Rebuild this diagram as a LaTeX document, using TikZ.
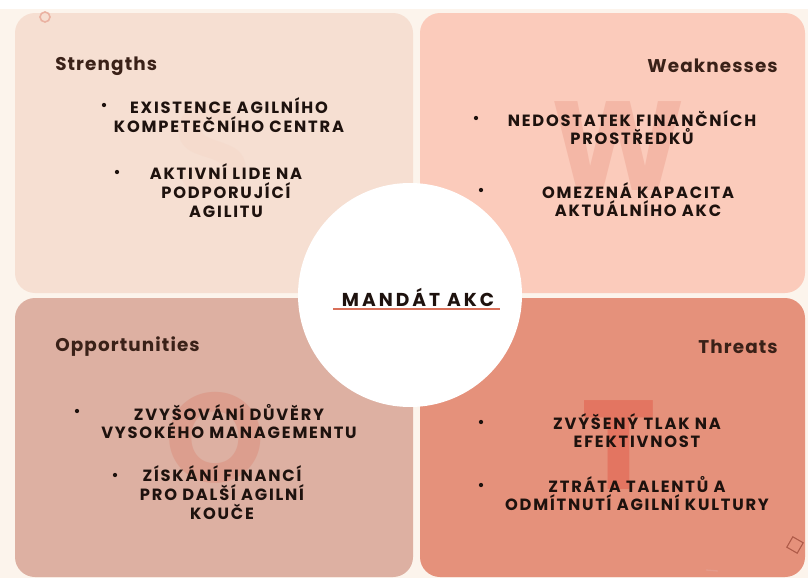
\documentclass[tikz,border=0pt]{standalone}
\usepackage{fontspec}
\setmainfont{Poppins}
\newfontfamily\itemfont{Poppins}[LetterSpace=11]
\newfontfamily\headfont{Poppins}[LetterSpace=6]
\newfontfamily\titlefont{Poppins}[LetterSpace=16]
\usetikzlibrary{positioning}

\definecolor{cream}{HTML}{FCF4EC}
\definecolor{tlfill}{HTML}{F6DFD2}
\definecolor{trfill}{HTML}{FBCBBB}
\definecolor{blfill}{HTML}{DDB0A2}
\definecolor{brfill}{HTML}{E5917B}
\definecolor{inkdark}{HTML}{1E120E}
\definecolor{headbrown}{HTML}{3A2118}
\definecolor{accent}{HTML}{D9705A}

\begin{document}
\begin{tikzpicture}[x=0.75pt, y=-0.75pt,
        quad/.style={rounded corners=15},
        head/.style={font=\headfont\bfseries\fontsize{13.8}{15}\selectfont, text=headbrown, inner sep=0},
        item/.style={align=center, font=\itemfont\bfseries\fontsize{12.2}{14}\selectfont, text=inkdark, inner sep=0},
        bul/.style={circle, fill=inkdark, inner sep=0, minimum size=3.2pt},
        wmark/.style={font=\headfont\bfseries\fontsize{95}{95}\selectfont, inner sep=0},
        hub/.style={circle, fill=white, minimum size=168pt, inner sep=0}
    ]
        \useasboundingbox (0,0) rectangle (808,578);
        \fill[cream] (0,0) rectangle (808,578);
        \fill[white] (0,0) rectangle (808,9);

        % Quadrants
        \fill[tlfill, quad] (15,13) rectangle (413,293);
        \fill[trfill, quad] (420,13) rectangle (805,293);
        \fill[blfill, quad] (15,298) rectangle (413,577);
        \fill[brfill, quad] (420,298) rectangle (805,577);

        % Big letters behind the text
        \node[wmark, text=tlfill!96!accent] (sl) at (212,150) {S};
        \node[wmark, text=trfill!78!accent] (wl) at (618,146) {W};
        \node[wmark, text=blfill!72!accent] (ol) at (215,438) {O};
        \node[wmark, text=brfill!55!accent!90!red] (tl) at (619,445) {T};

        % Small decorations
        \draw[tlfill!60!accent, line width=1.2pt] (45,17) circle (5);
        \draw[accent!80!black, line width=0.8pt, rotate around={-30:(795,545)}] (789,539) rectangle (801,551);
        \draw[accent!70!white, line width=1pt] (706,570) -- (718,571);

        % Headings
        \node[head, anchor=west] (sh) at (55,66) {Strengths};
        \node[head, anchor=east] (wh) at (778,66) {Weaknesses};
        \node[head, anchor=west] (oh) at (55,347) {Opportunities};
        \node[head, anchor=east] (th) at (778,347) {Threats};

        % Strengths
        \node[bul] (b1) at (104,105) {};
        \node[item] (s1) at (229,115) {EXISTENCE AGILNÍHO\\KOMPETEČNÍHO CENTRA};
        \node[bul] (b2) at (117,172) {};
        \node[item] (s2) at (226,190.5) {AKTIVNÍ LIDE NA\\PODPORUJÍCÍ\\AGILITU};

        % Weaknesses
        \node[bul] (b3) at (476,118) {};
        \node[item] (w1) at (632,127.5) {NEDOSTATEK FINANČNÍCH\\PROSTŘEDKŮ};
        \node[bul] (b4) at (481,190) {};
        \node[item] (w2) at (638,199.5) {OMEZENÁ KAPACITA\\AKTUÁLNÍHO AKC};

        % Opportunities
        \node[bul] (b5) at (77,411) {};
        \node[item] (o1) at (229,421.5) {ZVYŠOVÁNÍ DŮVĚRY\\VYSOKÉHO MANAGEMENTU};
        \node[bul] (b6) at (115,475) {};
        \node[item] (o2) at (222,492.5) {ZÍSKÁNÍ FINANCÍ\\PRO DALŠÍ AGILNÍ\\KOUČE};

        % Threats
        \node[bul] (b7) at (481,422) {};
        \node[item] (t1) at (637,430.5) {ZVÝŠENÝ TLAK NA\\EFEKTIVNOST};
        \node[bul] (b8) at (481,485) {};
        \node[item] (t2) at (637,493.5) {ZTRÁTA TALENTŮ A\\ODMÍTNUTÍ AGILNÍ KULTURY};

        % Centre
        \node[hub] (hub) at (410,295) {};
        \node[font=\titlefont\bfseries\fontsize{14}{15}\selectfont, text=inkdark, inner sep=0] (title) at (418,297) {MANDÁT AKC};
        \draw[accent, line width=1.5pt] (333,309) -- (500,309);
    \end{tikzpicture}
\end{document}
